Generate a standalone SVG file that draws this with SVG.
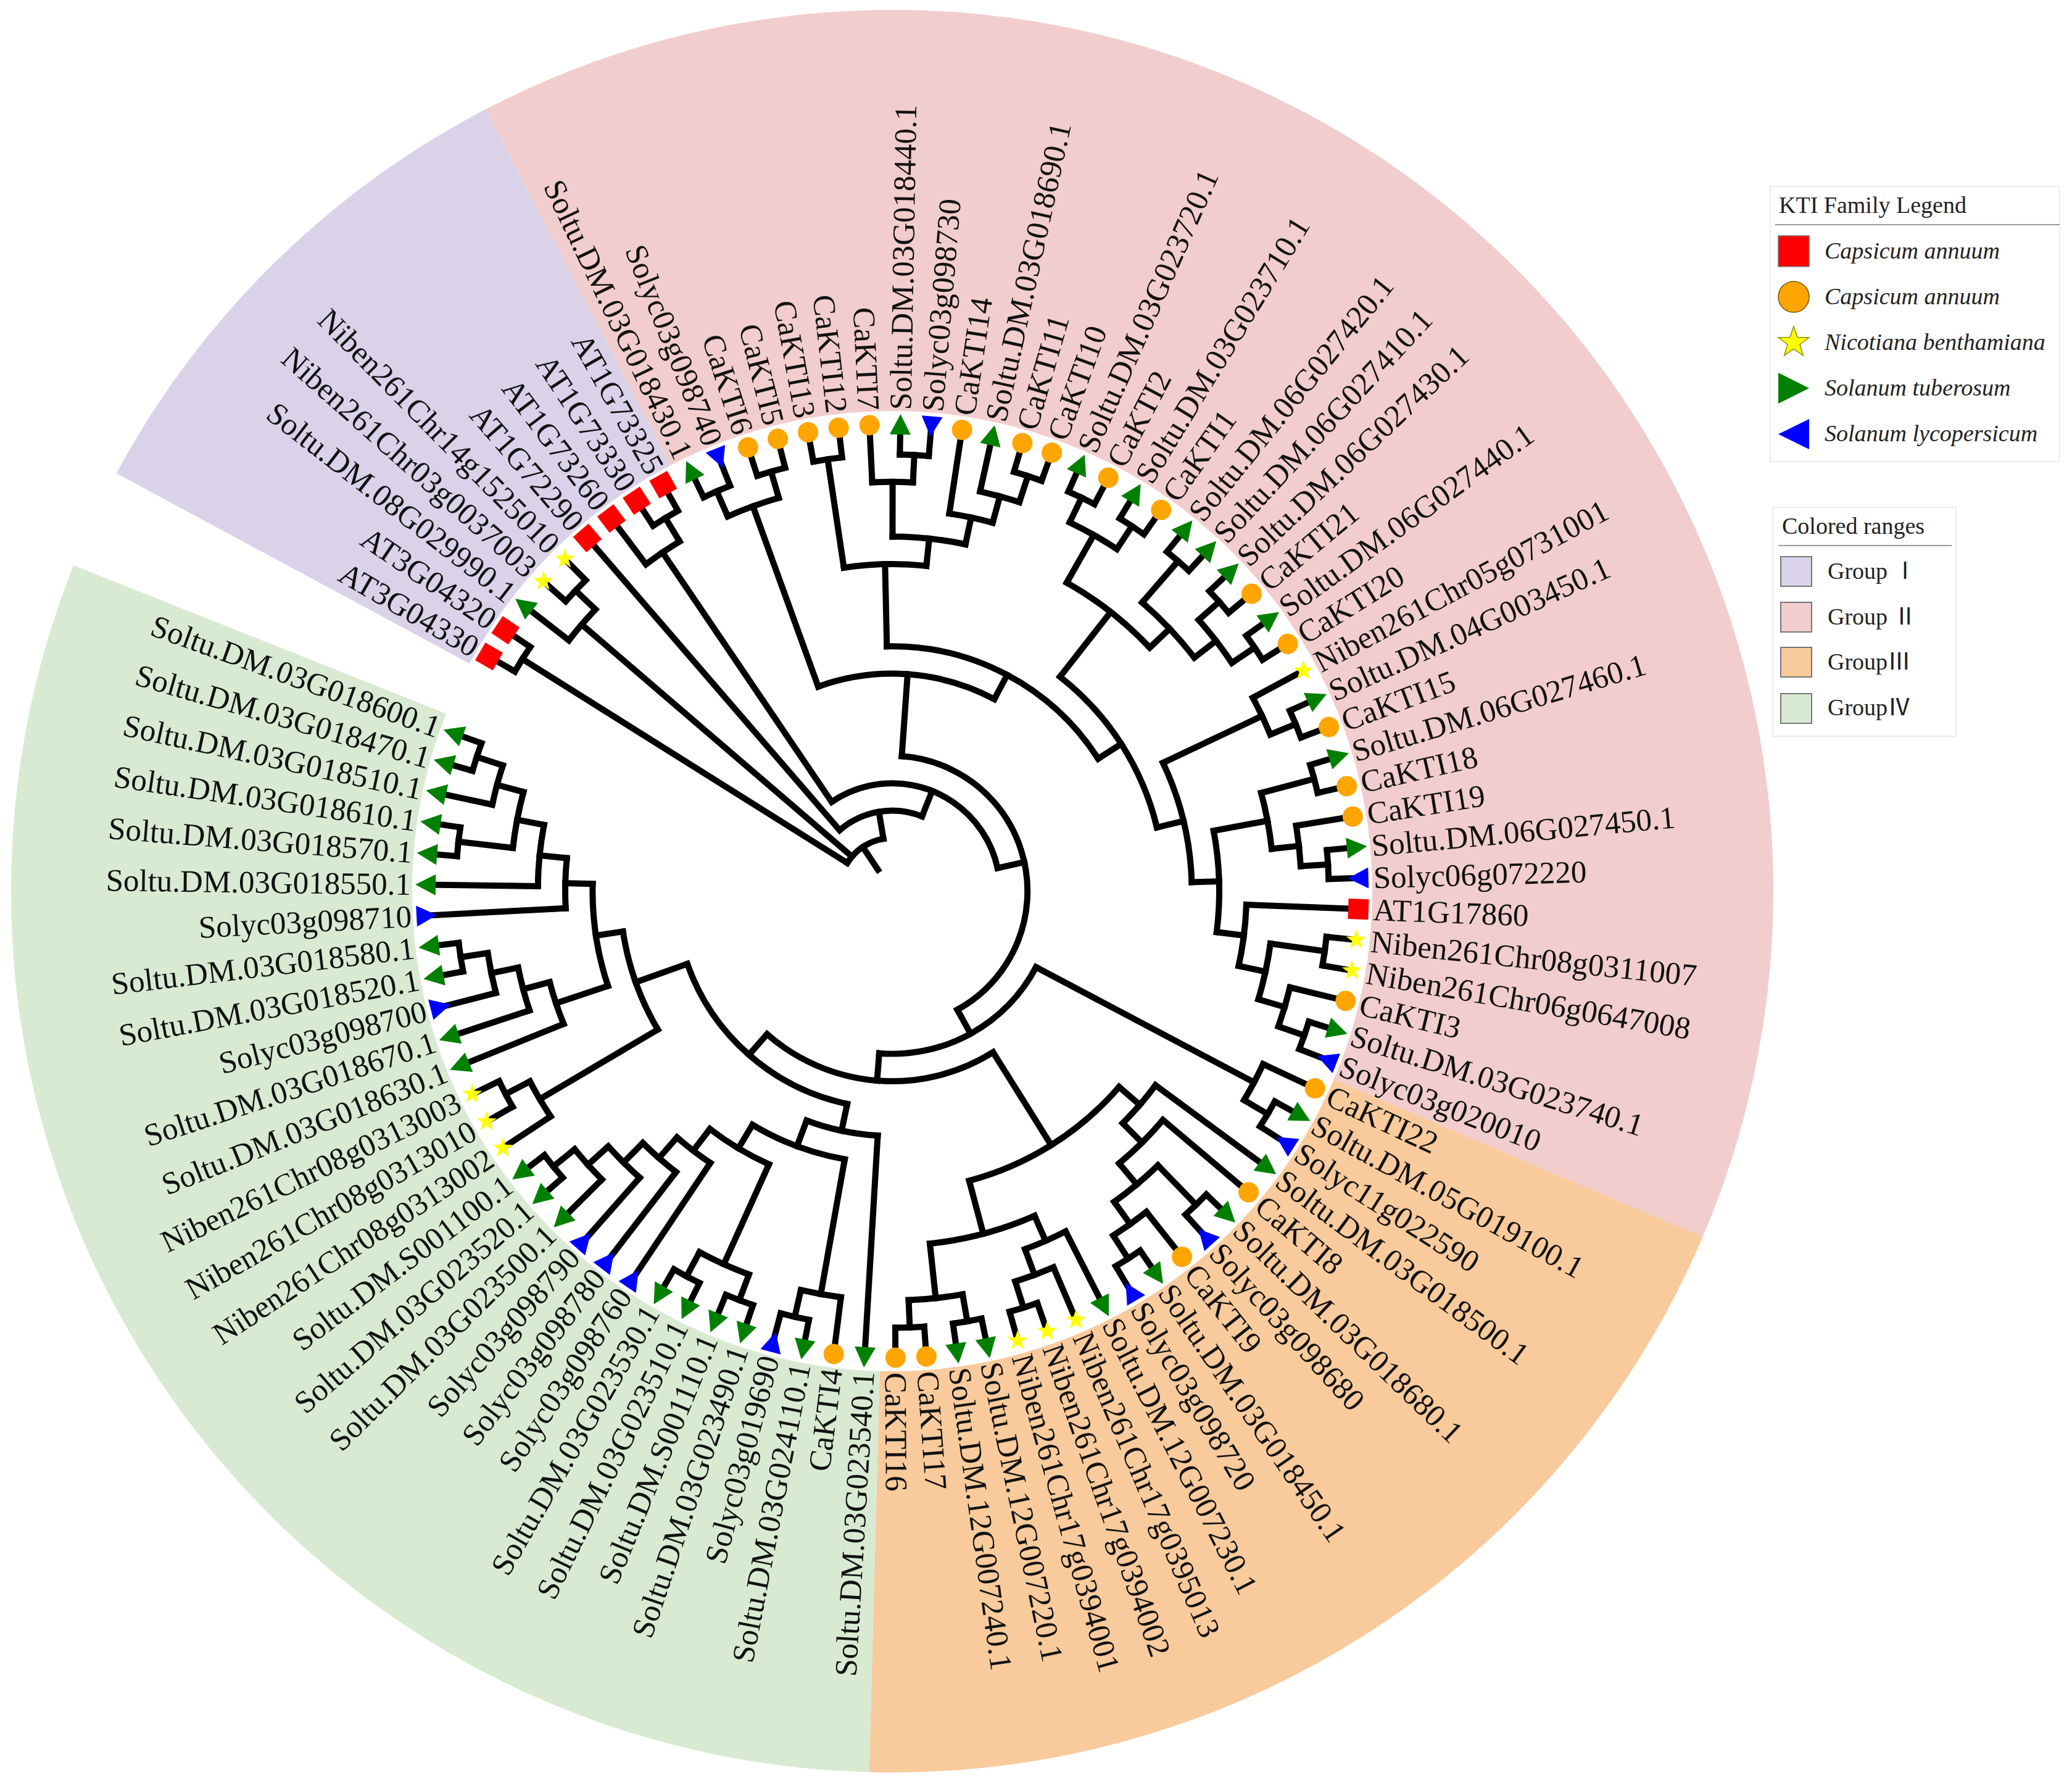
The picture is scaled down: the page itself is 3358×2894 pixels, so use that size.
<svg xmlns="http://www.w3.org/2000/svg" xmlns:xlink="http://www.w3.org/1999/xlink" width="3358" height="2894" viewBox="0 0 3358 2894">
<style>
.lab{font-family:"Liberation Serif","Times New Roman",serif;font-size:51px;fill:#111;dominant-baseline:central}
.l{text-anchor:end}
.lg{font-family:"Liberation Serif","Noto Sans CJK SC",serif;font-size:38px;fill:#222}
.it{font-style:italic}
#connectors line,#connectors circle{fill:none;stroke:#000;stroke-width:10;stroke-linecap:square}
</style>
<defs>
<circle id="c" r="16.5" fill="#FFA500"/>
<rect id="s" x="-16.5" y="-16.5" width="33" height="33" fill="#FF0000"/>
<polygon id="g" points="17,0 -16,-17 -16,17" fill="#008000"/>
<polygon id="b" points="-17,0 16,-17 16,17" fill="#0000FF"/>
<polygon id="y" points="0,-17 4,-5.5 16.17,-5.25 6.47,2.1 9.99,13.75 0,6.8 -9.99,13.75 -6.47,2.1 -16.17,-5.25 -4,-5.5" fill="#FFFF00"/>
</defs>
<rect width="3358" height="2894" fill="#fff"/>
<g id="ranges" transform="translate(1446 1444)" fill="none" stroke-width="650">
<circle r="1103" pathLength="360" stroke="#d9d2e9" stroke-dasharray="34.2 400" transform="rotate(208.3)"/>
<circle r="1103" pathLength="360" stroke="#f2cdcd" stroke-dasharray="140.6 400" transform="rotate(242.5)"/>
<circle r="1103" pathLength="360" stroke="#f8ca9c" stroke-dasharray="68.4 400" transform="rotate(23.1)"/>
<circle r="1103" pathLength="360" stroke="#d9ead3" stroke-dasharray="110.2 400" transform="rotate(91.5)"/>
</g>
<g id="connectors" transform="translate(1446 1444)">
<line x1="41.6" x2="86" transform="rotate(236.29)"/>
<line x1="86" x2="707.6" transform="rotate(212.1)"/>
<line x1="86" x2="663.2" transform="rotate(220.65)"/>
<line x1="663.2" x2="707.6" transform="rotate(223.5)"/>
<line x1="86" x2="130.4" transform="rotate(260.47)"/>
<line x1="130.4" x2="174.8" transform="rotate(291.74)"/>
<line x1="174.8" x2="663.2" transform="rotate(235.85)"/>
<line x1="663.2" x2="707.6" transform="rotate(238.7)"/>
<line x1="174.8" x2="219.2" transform="rotate(347.63)"/>
<line x1="219.2" x2="352.4" transform="rotate(274.05)"/>
<line x1="352.4" x2="663.2" transform="rotate(250.1)"/>
<line x1="663.2" x2="707.6" transform="rotate(246.3)"/>
<line x1="663.2" x2="707.6" transform="rotate(253.9)"/>
<line x1="352.4" x2="396.8" transform="rotate(298)"/>
<line x1="396.8" x2="530" transform="rotate(268.74)"/>
<line x1="530" x2="707.6" transform="rotate(261.5)"/>
<line x1="530" x2="574.4" transform="rotate(275.99)"/>
<line x1="574.4" x2="663.2" transform="rotate(270.05)"/>
<line x1="663.2" x2="707.6" transform="rotate(272.9)"/>
<line x1="574.4" x2="618.8" transform="rotate(281.925)"/>
<line x1="618.8" x2="663.2" transform="rotate(285.25)"/>
<line x1="663.2" x2="707.6" transform="rotate(288.1)"/>
<line x1="396.8" x2="441.2" transform="rotate(327.26)"/>
<line x1="441.2" x2="574.4" transform="rotate(308.05)"/>
<line x1="574.4" x2="663.2" transform="rotate(299.5)"/>
<line x1="663.2" x2="707.6" transform="rotate(295.7)"/>
<line x1="663.2" x2="707.6" transform="rotate(303.3)"/>
<line x1="574.4" x2="618.8" transform="rotate(316.6)"/>
<line x1="618.8" x2="707.6" transform="rotate(310.9)"/>
<line x1="618.8" x2="663.2" transform="rotate(322.3)"/>
<line x1="663.2" x2="707.6" transform="rotate(318.5)"/>
<line x1="663.2" x2="707.6" transform="rotate(326.1)"/>
<line x1="441.2" x2="485.6" transform="rotate(346.47)"/>
<line x1="485.6" x2="663.2" transform="rotate(334.65)"/>
<line x1="663.2" x2="707.6" transform="rotate(337.5)"/>
<line x1="485.6" x2="530" transform="rotate(358.28)"/>
<line x1="530" x2="618.8" transform="rotate(349.375)"/>
<line x1="618.8" x2="707.6" transform="rotate(345.1)"/>
<line x1="618.8" x2="663.2" transform="rotate(353.65)"/>
<line x1="663.2" x2="707.6" transform="rotate(356.5)"/>
<line x1="530" x2="574.4" transform="rotate(7.19)"/>
<line x1="574.4" x2="618.8" transform="rotate(12.175)"/>
<line x1="618.8" x2="707.6" transform="rotate(7.9)"/>
<line x1="618.8" x2="663.2" transform="rotate(16.45)"/>
<line x1="663.2" x2="707.6" transform="rotate(19.3)"/>
<line x1="219.2" x2="263.6" transform="rotate(61.21)"/>
<line x1="263.6" x2="663.2" transform="rotate(27.85)"/>
<line x1="663.2" x2="707.6" transform="rotate(30.7)"/>
<line x1="263.6" x2="308" transform="rotate(94.58)"/>
<line x1="308" x2="485.6" transform="rotate(57.95)"/>
<line x1="485.6" x2="530" transform="rotate(40.79)"/>
<line x1="530" x2="574.4" transform="rotate(45.19)"/>
<line x1="574.4" x2="618.8" transform="rotate(50.175)"/>
<line x1="618.8" x2="707.6" transform="rotate(45.9)"/>
<line x1="618.8" x2="663.2" transform="rotate(54.45)"/>
<line x1="663.2" x2="707.6" transform="rotate(57.3)"/>
<line x1="485.6" x2="574.4" transform="rotate(75.11)"/>
<line x1="574.4" x2="618.8" transform="rotate(66.325)"/>
<line x1="618.8" x2="663.2" transform="rotate(69.65)"/>
<line x1="663.2" x2="707.6" transform="rotate(72.5)"/>
<line x1="574.4" x2="663.2" transform="rotate(83.9)"/>
<line x1="663.2" x2="707.6" transform="rotate(80.1)"/>
<line x1="663.2" x2="707.6" transform="rotate(87.7)"/>
<line x1="308" x2="352.4" transform="rotate(131.2)"/>
<line x1="352.4" x2="396.8" transform="rotate(101.94)"/>
<line x1="396.8" x2="441.2" transform="rotate(110.47)"/>
<line x1="441.2" x2="663.2" transform="rotate(100.05)"/>
<line x1="663.2" x2="707.6" transform="rotate(102.9)"/>
<line x1="441.2" x2="485.6" transform="rotate(120.89)"/>
<line x1="485.6" x2="663.2" transform="rotate(114.3)"/>
<line x1="663.2" x2="707.6" transform="rotate(110.5)"/>
<line x1="663.2" x2="707.6" transform="rotate(118.1)"/>
<line x1="485.6" x2="530" transform="rotate(127.48)"/>
<line x1="530" x2="574.4" transform="rotate(131.16)"/>
<line x1="574.4" x2="618.8" transform="rotate(134.725)"/>
<line x1="618.8" x2="663.2" transform="rotate(138.05)"/>
<line x1="663.2" x2="707.6" transform="rotate(140.9)"/>
<line x1="352.4" x2="441.2" transform="rotate(160.46)"/>
<line x1="441.2" x2="663.2" transform="rotate(149.45)"/>
<line x1="663.2" x2="707.6" transform="rotate(152.3)"/>
<line x1="441.2" x2="485.6" transform="rotate(171.48)"/>
<line x1="485.6" x2="574.4" transform="rotate(161.56)"/>
<line x1="574.4" x2="618.8" transform="rotate(165.125)"/>
<line x1="618.8" x2="663.2" transform="rotate(168.45)"/>
<line x1="663.2" x2="707.6" transform="rotate(171.3)"/>
<line x1="485.6" x2="530" transform="rotate(181.39)"/>
<line x1="530" x2="574.4" transform="rotate(185.79)"/>
<line x1="574.4" x2="618.8" transform="rotate(190.775)"/>
<line x1="618.8" x2="707.6" transform="rotate(186.5)"/>
<line x1="618.8" x2="663.2" transform="rotate(195.05)"/>
<line x1="663.2" x2="707.6" transform="rotate(197.9)"/>
<line x1="707.6" x2="752" transform="rotate(210.2)"/>
<line x1="707.6" x2="752" transform="rotate(214)"/>
<line x1="663.2" x2="752" transform="rotate(217.8)"/>
<line x1="707.6" x2="752" transform="rotate(221.6)"/>
<line x1="707.6" x2="752" transform="rotate(225.4)"/>
<line x1="130.4" x2="752" transform="rotate(229.2)"/>
<line x1="663.2" x2="752" transform="rotate(233)"/>
<line x1="707.6" x2="752" transform="rotate(236.8)"/>
<line x1="707.6" x2="752" transform="rotate(240.6)"/>
<line x1="707.6" x2="752" transform="rotate(244.4)"/>
<line x1="707.6" x2="752" transform="rotate(248.2)"/>
<line x1="707.6" x2="752" transform="rotate(252)"/>
<line x1="707.6" x2="752" transform="rotate(255.8)"/>
<line x1="707.6" x2="752" transform="rotate(259.6)"/>
<line x1="707.6" x2="752" transform="rotate(263.4)"/>
<line x1="663.2" x2="752" transform="rotate(267.2)"/>
<line x1="707.6" x2="752" transform="rotate(271)"/>
<line x1="707.6" x2="752" transform="rotate(274.8)"/>
<line x1="618.8" x2="752" transform="rotate(278.6)"/>
<line x1="663.2" x2="752" transform="rotate(282.4)"/>
<line x1="707.6" x2="752" transform="rotate(286.2)"/>
<line x1="707.6" x2="752" transform="rotate(290)"/>
<line x1="707.6" x2="752" transform="rotate(293.8)"/>
<line x1="707.6" x2="752" transform="rotate(297.6)"/>
<line x1="707.6" x2="752" transform="rotate(301.4)"/>
<line x1="707.6" x2="752" transform="rotate(305.2)"/>
<line x1="707.6" x2="752" transform="rotate(309)"/>
<line x1="707.6" x2="752" transform="rotate(312.8)"/>
<line x1="707.6" x2="752" transform="rotate(316.6)"/>
<line x1="707.6" x2="752" transform="rotate(320.4)"/>
<line x1="707.6" x2="752" transform="rotate(324.2)"/>
<line x1="707.6" x2="752" transform="rotate(328)"/>
<line x1="663.2" x2="752" transform="rotate(331.8)"/>
<line x1="707.6" x2="752" transform="rotate(335.6)"/>
<line x1="707.6" x2="752" transform="rotate(339.4)"/>
<line x1="707.6" x2="752" transform="rotate(343.2)"/>
<line x1="707.6" x2="752" transform="rotate(347)"/>
<line x1="663.2" x2="752" transform="rotate(350.8)"/>
<line x1="707.6" x2="752" transform="rotate(354.6)"/>
<line x1="707.6" x2="752" transform="rotate(358.4)"/>
<line x1="574.4" x2="752" transform="rotate(2.2)"/>
<line x1="707.6" x2="752" transform="rotate(6)"/>
<line x1="707.6" x2="752" transform="rotate(9.8)"/>
<line x1="663.2" x2="752" transform="rotate(13.6)"/>
<line x1="707.6" x2="752" transform="rotate(17.4)"/>
<line x1="707.6" x2="752" transform="rotate(21.2)"/>
<line x1="663.2" x2="752" transform="rotate(25)"/>
<line x1="707.6" x2="752" transform="rotate(28.8)"/>
<line x1="707.6" x2="752" transform="rotate(32.6)"/>
<line x1="530" x2="752" transform="rotate(36.4)"/>
<line x1="574.4" x2="752" transform="rotate(40.2)"/>
<line x1="707.6" x2="752" transform="rotate(44)"/>
<line x1="707.6" x2="752" transform="rotate(47.8)"/>
<line x1="663.2" x2="752" transform="rotate(51.6)"/>
<line x1="707.6" x2="752" transform="rotate(55.4)"/>
<line x1="707.6" x2="752" transform="rotate(59.2)"/>
<line x1="618.8" x2="752" transform="rotate(63)"/>
<line x1="663.2" x2="752" transform="rotate(66.8)"/>
<line x1="707.6" x2="752" transform="rotate(70.6)"/>
<line x1="707.6" x2="752" transform="rotate(74.4)"/>
<line x1="707.6" x2="752" transform="rotate(78.2)"/>
<line x1="707.6" x2="752" transform="rotate(82)"/>
<line x1="707.6" x2="752" transform="rotate(85.8)"/>
<line x1="707.6" x2="752" transform="rotate(89.6)"/>
<line x1="396.8" x2="752" transform="rotate(93.4)"/>
<line x1="663.2" x2="752" transform="rotate(97.2)"/>
<line x1="707.6" x2="752" transform="rotate(101)"/>
<line x1="707.6" x2="752" transform="rotate(104.8)"/>
<line x1="707.6" x2="752" transform="rotate(108.6)"/>
<line x1="707.6" x2="752" transform="rotate(112.4)"/>
<line x1="707.6" x2="752" transform="rotate(116.2)"/>
<line x1="707.6" x2="752" transform="rotate(120)"/>
<line x1="530" x2="752" transform="rotate(123.8)"/>
<line x1="574.4" x2="752" transform="rotate(127.6)"/>
<line x1="618.8" x2="752" transform="rotate(131.4)"/>
<line x1="663.2" x2="752" transform="rotate(135.2)"/>
<line x1="707.6" x2="752" transform="rotate(139)"/>
<line x1="707.6" x2="752" transform="rotate(142.8)"/>
<line x1="663.2" x2="752" transform="rotate(146.6)"/>
<line x1="707.6" x2="752" transform="rotate(150.4)"/>
<line x1="707.6" x2="752" transform="rotate(154.2)"/>
<line x1="574.4" x2="752" transform="rotate(158)"/>
<line x1="618.8" x2="752" transform="rotate(161.8)"/>
<line x1="663.2" x2="752" transform="rotate(165.6)"/>
<line x1="707.6" x2="752" transform="rotate(169.4)"/>
<line x1="707.6" x2="752" transform="rotate(173.2)"/>
<line x1="530" x2="752" transform="rotate(177)"/>
<line x1="574.4" x2="752" transform="rotate(180.8)"/>
<line x1="707.6" x2="752" transform="rotate(184.6)"/>
<line x1="707.6" x2="752" transform="rotate(188.4)"/>
<line x1="663.2" x2="752" transform="rotate(192.2)"/>
<line x1="707.6" x2="752" transform="rotate(196)"/>
<line x1="707.6" x2="752" transform="rotate(199.8)"/>
<circle r="86" pathLength="360" stroke-dasharray="48.37 400" transform="rotate(212.1)"/>
<circle r="130.4" pathLength="360" stroke-dasharray="62.54 400" transform="rotate(229.2)"/>
<circle r="174.8" pathLength="360" stroke-dasharray="111.78 400" transform="rotate(235.85)"/>
<circle r="219.2" pathLength="360" stroke-dasharray="147.16 400" transform="rotate(274.05)"/>
<circle r="352.4" pathLength="360" stroke-dasharray="47.9 400" transform="rotate(250.1)"/>
<circle r="396.8" pathLength="360" stroke-dasharray="58.52 400" transform="rotate(268.74)"/>
<circle r="530" pathLength="360" stroke-dasharray="14.49 400" transform="rotate(261.5)"/>
<circle r="574.4" pathLength="360" stroke-dasharray="11.875 400" transform="rotate(270.05)"/>
<circle r="663.2" pathLength="360" stroke-dasharray="5.7 400" transform="rotate(267.2)"/>
<circle r="618.8" pathLength="360" stroke-dasharray="6.65 400" transform="rotate(278.6)"/>
<circle r="663.2" pathLength="360" stroke-dasharray="5.7 400" transform="rotate(282.4)"/>
<circle r="663.2" pathLength="360" stroke-dasharray="7.6 400" transform="rotate(246.3)"/>
<circle r="441.2" pathLength="360" stroke-dasharray="38.42 400" transform="rotate(308.05)"/>
<circle r="574.4" pathLength="360" stroke-dasharray="17.1 400" transform="rotate(299.5)"/>
<circle r="663.2" pathLength="360" stroke-dasharray="7.6 400" transform="rotate(295.7)"/>
<circle r="618.8" pathLength="360" stroke-dasharray="11.4 400" transform="rotate(310.9)"/>
<circle r="663.2" pathLength="360" stroke-dasharray="7.6 400" transform="rotate(318.5)"/>
<circle r="485.6" pathLength="360" stroke-dasharray="23.63 400" transform="rotate(334.65)"/>
<circle r="663.2" pathLength="360" stroke-dasharray="5.7 400" transform="rotate(331.8)"/>
<circle r="530" pathLength="360" stroke-dasharray="17.815 400" transform="rotate(349.375)"/>
<circle r="618.8" pathLength="360" stroke-dasharray="8.55 400" transform="rotate(345.1)"/>
<circle r="663.2" pathLength="360" stroke-dasharray="5.7 400" transform="rotate(350.8)"/>
<circle r="574.4" pathLength="360" stroke-dasharray="9.975 400" transform="rotate(2.2)"/>
<circle r="618.8" pathLength="360" stroke-dasharray="8.55 400" transform="rotate(7.9)"/>
<circle r="663.2" pathLength="360" stroke-dasharray="5.7 400" transform="rotate(13.6)"/>
<circle r="263.6" pathLength="360" stroke-dasharray="66.73 400" transform="rotate(27.85)"/>
<circle r="663.2" pathLength="360" stroke-dasharray="5.7 400" transform="rotate(25)"/>
<circle r="308" pathLength="360" stroke-dasharray="73.25 400" transform="rotate(57.95)"/>
<circle r="485.6" pathLength="360" stroke-dasharray="34.32 400" transform="rotate(40.79)"/>
<circle r="530" pathLength="360" stroke-dasharray="8.79 400" transform="rotate(36.4)"/>
<circle r="574.4" pathLength="360" stroke-dasharray="9.975 400" transform="rotate(40.2)"/>
<circle r="618.8" pathLength="360" stroke-dasharray="8.55 400" transform="rotate(45.9)"/>
<circle r="663.2" pathLength="360" stroke-dasharray="5.7 400" transform="rotate(51.6)"/>
<circle r="574.4" pathLength="360" stroke-dasharray="17.575 400" transform="rotate(66.325)"/>
<circle r="618.8" pathLength="360" stroke-dasharray="6.65 400" transform="rotate(63)"/>
<circle r="663.2" pathLength="360" stroke-dasharray="5.7 400" transform="rotate(66.8)"/>
<circle r="663.2" pathLength="360" stroke-dasharray="7.6 400" transform="rotate(80.1)"/>
<circle r="352.4" pathLength="360" stroke-dasharray="58.52 400" transform="rotate(101.94)"/>
<circle r="396.8" pathLength="360" stroke-dasharray="17.07 400" transform="rotate(93.4)"/>
<circle r="441.2" pathLength="360" stroke-dasharray="20.84 400" transform="rotate(100.05)"/>
<circle r="663.2" pathLength="360" stroke-dasharray="5.7 400" transform="rotate(97.2)"/>
<circle r="485.6" pathLength="360" stroke-dasharray="13.18 400" transform="rotate(114.3)"/>
<circle r="663.2" pathLength="360" stroke-dasharray="7.6 400" transform="rotate(110.5)"/>
<circle r="530" pathLength="360" stroke-dasharray="7.36 400" transform="rotate(123.8)"/>
<circle r="574.4" pathLength="360" stroke-dasharray="7.125 400" transform="rotate(127.6)"/>
<circle r="618.8" pathLength="360" stroke-dasharray="6.65 400" transform="rotate(131.4)"/>
<circle r="663.2" pathLength="360" stroke-dasharray="5.7 400" transform="rotate(135.2)"/>
<circle r="441.2" pathLength="360" stroke-dasharray="22.03 400" transform="rotate(149.45)"/>
<circle r="663.2" pathLength="360" stroke-dasharray="5.7 400" transform="rotate(146.6)"/>
<circle r="485.6" pathLength="360" stroke-dasharray="19.83 400" transform="rotate(161.56)"/>
<circle r="574.4" pathLength="360" stroke-dasharray="7.125 400" transform="rotate(158)"/>
<circle r="618.8" pathLength="360" stroke-dasharray="6.65 400" transform="rotate(161.8)"/>
<circle r="663.2" pathLength="360" stroke-dasharray="5.7 400" transform="rotate(165.6)"/>
<circle r="530" pathLength="360" stroke-dasharray="8.79 400" transform="rotate(177)"/>
<circle r="574.4" pathLength="360" stroke-dasharray="9.975 400" transform="rotate(180.8)"/>
<circle r="618.8" pathLength="360" stroke-dasharray="8.55 400" transform="rotate(186.5)"/>
<circle r="663.2" pathLength="360" stroke-dasharray="5.7 400" transform="rotate(192.2)"/>
<circle r="663.2" pathLength="360" stroke-dasharray="5.7 400" transform="rotate(217.8)"/>
<circle r="663.2" pathLength="360" stroke-dasharray="5.7 400" transform="rotate(233)"/>
<circle r="707.6" pathLength="360" stroke-dasharray="3.8 400" transform="rotate(210.2)"/>
<circle r="707.6" pathLength="360" stroke-dasharray="3.8 400" transform="rotate(221.6)"/>
<circle r="707.6" pathLength="360" stroke-dasharray="3.8 400" transform="rotate(236.8)"/>
<circle r="707.6" pathLength="360" stroke-dasharray="3.8 400" transform="rotate(244.4)"/>
<circle r="707.6" pathLength="360" stroke-dasharray="3.8 400" transform="rotate(252)"/>
<circle r="707.6" pathLength="360" stroke-dasharray="3.8 400" transform="rotate(259.6)"/>
<circle r="707.6" pathLength="360" stroke-dasharray="3.8 400" transform="rotate(271)"/>
<circle r="707.6" pathLength="360" stroke-dasharray="3.8 400" transform="rotate(286.2)"/>
<circle r="707.6" pathLength="360" stroke-dasharray="3.8 400" transform="rotate(293.8)"/>
<circle r="707.6" pathLength="360" stroke-dasharray="3.8 400" transform="rotate(301.4)"/>
<circle r="707.6" pathLength="360" stroke-dasharray="3.8 400" transform="rotate(309)"/>
<circle r="707.6" pathLength="360" stroke-dasharray="3.8 400" transform="rotate(316.6)"/>
<circle r="707.6" pathLength="360" stroke-dasharray="3.8 400" transform="rotate(324.2)"/>
<circle r="707.6" pathLength="360" stroke-dasharray="3.8 400" transform="rotate(335.6)"/>
<circle r="707.6" pathLength="360" stroke-dasharray="3.8 400" transform="rotate(343.2)"/>
<circle r="707.6" pathLength="360" stroke-dasharray="3.8 400" transform="rotate(354.6)"/>
<circle r="707.6" pathLength="360" stroke-dasharray="3.8 400" transform="rotate(6)"/>
<circle r="707.6" pathLength="360" stroke-dasharray="3.8 400" transform="rotate(17.4)"/>
<circle r="707.6" pathLength="360" stroke-dasharray="3.8 400" transform="rotate(28.8)"/>
<circle r="707.6" pathLength="360" stroke-dasharray="3.8 400" transform="rotate(44)"/>
<circle r="707.6" pathLength="360" stroke-dasharray="3.8 400" transform="rotate(55.4)"/>
<circle r="707.6" pathLength="360" stroke-dasharray="3.8 400" transform="rotate(70.6)"/>
<circle r="707.6" pathLength="360" stroke-dasharray="3.8 400" transform="rotate(78.2)"/>
<circle r="707.6" pathLength="360" stroke-dasharray="3.8 400" transform="rotate(85.8)"/>
<circle r="707.6" pathLength="360" stroke-dasharray="3.8 400" transform="rotate(101)"/>
<circle r="707.6" pathLength="360" stroke-dasharray="3.8 400" transform="rotate(108.6)"/>
<circle r="707.6" pathLength="360" stroke-dasharray="3.8 400" transform="rotate(116.2)"/>
<circle r="707.6" pathLength="360" stroke-dasharray="3.8 400" transform="rotate(139)"/>
<circle r="707.6" pathLength="360" stroke-dasharray="3.8 400" transform="rotate(150.4)"/>
<circle r="707.6" pathLength="360" stroke-dasharray="3.8 400" transform="rotate(169.4)"/>
<circle r="707.6" pathLength="360" stroke-dasharray="3.8 400" transform="rotate(184.6)"/>
<circle r="707.6" pathLength="360" stroke-dasharray="3.8 400" transform="rotate(196)"/>
</g>
<g id="leaves" class="lab" transform="translate(1446 1444)">
<g id="leaf0" transform="rotate(210.2)"><use href="#s" x="756"/><text class="l" transform="translate(780) rotate(180)">AT3G04330</text></g>
<g id="leaf1" transform="rotate(214)"><use href="#s" x="756"/><text class="l" transform="translate(780) rotate(180)">AT3G04320</text></g>
<g id="leaf2" transform="rotate(217.8)"><use href="#g" x="756"/><text class="l" transform="translate(780) rotate(180)">Soltu.DM.08G029990.1</text></g>
<g id="leaf3" transform="rotate(221.6)"><use href="#y" transform="translate(756) rotate(-221.6)"/><text class="l" transform="translate(780) rotate(180)">Niben261Chr03g0037003</text></g>
<g id="leaf4" transform="rotate(225.4)"><use href="#y" transform="translate(756) rotate(-225.4)"/><text class="l" transform="translate(780) rotate(180)">Niben261Chr14g1525010</text></g>
<g id="leaf5" transform="rotate(229.2)"><use href="#s" x="756"/><text class="l" transform="translate(780) rotate(180)">AT1G72290</text></g>
<g id="leaf6" transform="rotate(233)"><use href="#s" x="756"/><text class="l" transform="translate(780) rotate(180)">AT1G73260</text></g>
<g id="leaf7" transform="rotate(236.8)"><use href="#s" x="756"/><text class="l" transform="translate(780) rotate(180)">AT1G73330</text></g>
<g id="leaf8" transform="rotate(240.6)"><use href="#s" x="756"/><text class="l" transform="translate(780) rotate(180)">AT1G73325</text></g>
<g id="leaf9" transform="rotate(244.4)"><use href="#g" x="756"/><text class="l" transform="translate(780) rotate(180)">Soltu.DM.03G018430.1</text></g>
<g id="leaf10" transform="rotate(248.2)"><use href="#b" x="756"/><text class="l" transform="translate(780) rotate(180)">Solyc03g098740</text></g>
<g id="leaf11" transform="rotate(252)"><use href="#c" x="756"/><text class="l" transform="translate(780) rotate(180)">CaKTI6</text></g>
<g id="leaf12" transform="rotate(255.8)"><use href="#c" x="756"/><text class="l" transform="translate(780) rotate(180)">CaKTI5</text></g>
<g id="leaf13" transform="rotate(259.6)"><use href="#c" x="756"/><text class="l" transform="translate(780) rotate(180)">CaKTI13</text></g>
<g id="leaf14" transform="rotate(263.4)"><use href="#c" x="756"/><text class="l" transform="translate(780) rotate(180)">CaKTI12</text></g>
<g id="leaf15" transform="rotate(267.2)"><use href="#c" x="756"/><text class="l" transform="translate(780) rotate(180)">CaKTI7</text></g>
<g id="leaf16" transform="rotate(271)"><use href="#g" x="756"/><text x="780">Soltu.DM.03G018440.1</text></g>
<g id="leaf17" transform="rotate(274.8)"><use href="#b" x="756"/><text x="780">Solyc03g098730</text></g>
<g id="leaf18" transform="rotate(278.6)"><use href="#c" x="756"/><text x="780">CaKTI14</text></g>
<g id="leaf19" transform="rotate(282.4)"><use href="#g" x="756"/><text x="780">Soltu.DM.03G018690.1</text></g>
<g id="leaf20" transform="rotate(286.2)"><use href="#c" x="756"/><text x="780">CaKTI11</text></g>
<g id="leaf21" transform="rotate(290)"><use href="#c" x="756"/><text x="780">CaKTI10</text></g>
<g id="leaf22" transform="rotate(293.8)"><use href="#g" x="756"/><text x="780">Soltu.DM.03G023720.1</text></g>
<g id="leaf23" transform="rotate(297.6)"><use href="#c" x="756"/><text x="780">CaKTI2</text></g>
<g id="leaf24" transform="rotate(301.4)"><use href="#g" x="756"/><text x="780">Soltu.DM.03G023710.1</text></g>
<g id="leaf25" transform="rotate(305.2)"><use href="#c" x="756"/><text x="780">CaKTI1</text></g>
<g id="leaf26" transform="rotate(309)"><use href="#g" x="756"/><text x="780">Soltu.DM.06G027420.1</text></g>
<g id="leaf27" transform="rotate(312.8)"><use href="#g" x="756"/><text x="780">Soltu.DM.06G027410.1</text></g>
<g id="leaf28" transform="rotate(316.6)"><use href="#g" x="756"/><text x="780">Soltu.DM.06G027430.1</text></g>
<g id="leaf29" transform="rotate(320.4)"><use href="#c" x="756"/><text x="780">CaKTI21</text></g>
<g id="leaf30" transform="rotate(324.2)"><use href="#g" x="756"/><text x="780">Soltu.DM.06G027440.1</text></g>
<g id="leaf31" transform="rotate(328)"><use href="#c" x="756"/><text x="780">CaKTI20</text></g>
<g id="leaf32" transform="rotate(331.8)"><use href="#y" transform="translate(756) rotate(-331.8)"/><text x="780">Niben261Chr05g0731001</text></g>
<g id="leaf33" transform="rotate(335.6)"><use href="#g" x="756"/><text x="780">Soltu.DM.04G003450.1</text></g>
<g id="leaf34" transform="rotate(339.4)"><use href="#c" x="756"/><text x="780">CaKTI15</text></g>
<g id="leaf35" transform="rotate(343.2)"><use href="#g" x="756"/><text x="780">Soltu.DM.06G027460.1</text></g>
<g id="leaf36" transform="rotate(347)"><use href="#c" x="756"/><text x="780">CaKTI18</text></g>
<g id="leaf37" transform="rotate(350.8)"><use href="#c" x="756"/><text x="780">CaKTI19</text></g>
<g id="leaf38" transform="rotate(354.6)"><use href="#g" x="756"/><text x="780">Soltu.DM.06G027450.1</text></g>
<g id="leaf39" transform="rotate(358.4)"><use href="#b" x="756"/><text x="780">Solyc06g072220</text></g>
<g id="leaf40" transform="rotate(2.2)"><use href="#s" x="756"/><text x="780">AT1G17860</text></g>
<g id="leaf41" transform="rotate(6)"><use href="#y" transform="translate(756) rotate(-6)"/><text x="780">Niben261Chr08g0311007</text></g>
<g id="leaf42" transform="rotate(9.8)"><use href="#y" transform="translate(756) rotate(-9.8)"/><text x="780">Niben261Chr06g0647008</text></g>
<g id="leaf43" transform="rotate(13.6)"><use href="#c" x="756"/><text x="780">CaKTI3</text></g>
<g id="leaf44" transform="rotate(17.4)"><use href="#g" x="756"/><text x="780">Soltu.DM.03G023740.1</text></g>
<g id="leaf45" transform="rotate(21.2)"><use href="#b" x="756"/><text x="780">Solyc03g020010</text></g>
<g id="leaf46" transform="rotate(25)"><use href="#c" x="756"/><text x="780">CaKTI22</text></g>
<g id="leaf47" transform="rotate(28.8)"><use href="#g" x="756"/><text x="780">Soltu.DM.05G019100.1</text></g>
<g id="leaf48" transform="rotate(32.6)"><use href="#b" x="756"/><text x="780">Solyc11g022590</text></g>
<g id="leaf49" transform="rotate(36.4)"><use href="#g" x="756"/><text x="780">Soltu.DM.03G018500.1</text></g>
<g id="leaf50" transform="rotate(40.2)"><use href="#c" x="756"/><text x="780">CaKTI8</text></g>
<g id="leaf51" transform="rotate(44)"><use href="#g" x="756"/><text x="780">Soltu.DM.03G018680.1</text></g>
<g id="leaf52" transform="rotate(47.8)"><use href="#b" x="756"/><text x="780">Solyc03g098680</text></g>
<g id="leaf53" transform="rotate(51.6)"><use href="#c" x="756"/><text x="780">CaKTI9</text></g>
<g id="leaf54" transform="rotate(55.4)"><use href="#g" x="756"/><text x="780">Soltu.DM.03G018450.1</text></g>
<g id="leaf55" transform="rotate(59.2)"><use href="#b" x="756"/><text x="780">Solyc03g098720</text></g>
<g id="leaf56" transform="rotate(63)"><use href="#g" x="756"/><text x="780">Soltu.DM.12G007230.1</text></g>
<g id="leaf57" transform="rotate(66.8)"><use href="#y" transform="translate(756) rotate(-66.8)"/><text x="780">Niben261Chr17g0395013</text></g>
<g id="leaf58" transform="rotate(70.6)"><use href="#y" transform="translate(756) rotate(-70.6)"/><text x="780">Niben261Chr17g0394002</text></g>
<g id="leaf59" transform="rotate(74.4)"><use href="#y" transform="translate(756) rotate(-74.4)"/><text x="780">Niben261Chr17g0394001</text></g>
<g id="leaf60" transform="rotate(78.2)"><use href="#g" x="756"/><text x="780">Soltu.DM.12G007220.1</text></g>
<g id="leaf61" transform="rotate(82)"><use href="#g" x="756"/><text x="780">Soltu.DM.12G007240.1</text></g>
<g id="leaf62" transform="rotate(85.8)"><use href="#c" x="756"/><text x="780">CaKTI17</text></g>
<g id="leaf63" transform="rotate(89.6)"><use href="#c" x="756"/><text x="780">CaKTI16</text></g>
<g id="leaf64" transform="rotate(93.4)"><use href="#g" x="756"/><text class="l" transform="translate(780) rotate(180)">Soltu.DM.03G023540.1</text></g>
<g id="leaf65" transform="rotate(97.2)"><use href="#c" x="756"/><text class="l" transform="translate(780) rotate(180)">CaKTI4</text></g>
<g id="leaf66" transform="rotate(101)"><use href="#g" x="756"/><text class="l" transform="translate(780) rotate(180)">Soltu.DM.03G024110.1</text></g>
<g id="leaf67" transform="rotate(104.8)"><use href="#b" x="756"/><text class="l" transform="translate(780) rotate(180)">Solyc03g019690</text></g>
<g id="leaf68" transform="rotate(108.6)"><use href="#g" x="756"/><text class="l" transform="translate(780) rotate(180)">Soltu.DM.03G023490.1</text></g>
<g id="leaf69" transform="rotate(112.4)"><use href="#g" x="756"/><text class="l" transform="translate(780) rotate(180)">Soltu.DM.S001110.1</text></g>
<g id="leaf70" transform="rotate(116.2)"><use href="#g" x="756"/><text class="l" transform="translate(780) rotate(180)">Soltu.DM.03G023510.1</text></g>
<g id="leaf71" transform="rotate(120)"><use href="#g" x="756"/><text class="l" transform="translate(780) rotate(180)">Soltu.DM.03G023530.1</text></g>
<g id="leaf72" transform="rotate(123.8)"><use href="#b" x="756"/><text class="l" transform="translate(780) rotate(180)">Solyc03g098760</text></g>
<g id="leaf73" transform="rotate(127.6)"><use href="#b" x="756"/><text class="l" transform="translate(780) rotate(180)">Solyc03g098780</text></g>
<g id="leaf74" transform="rotate(131.4)"><use href="#b" x="756"/><text class="l" transform="translate(780) rotate(180)">Solyc03g098790</text></g>
<g id="leaf75" transform="rotate(135.2)"><use href="#g" x="756"/><text class="l" transform="translate(780) rotate(180)">Soltu.DM.03G023500.1</text></g>
<g id="leaf76" transform="rotate(139)"><use href="#g" x="756"/><text class="l" transform="translate(780) rotate(180)">Soltu.DM.03G023520.1</text></g>
<g id="leaf77" transform="rotate(142.8)"><use href="#g" x="756"/><text class="l" transform="translate(780) rotate(180)">Soltu.DM.S001100.1</text></g>
<g id="leaf78" transform="rotate(146.6)"><use href="#y" transform="translate(756) rotate(-146.6)"/><text class="l" transform="translate(780) rotate(180)">Niben261Chr08g0313002</text></g>
<g id="leaf79" transform="rotate(150.4)"><use href="#y" transform="translate(756) rotate(-150.4)"/><text class="l" transform="translate(780) rotate(180)">Niben261Chr08g0313010</text></g>
<g id="leaf80" transform="rotate(154.2)"><use href="#y" transform="translate(756) rotate(-154.2)"/><text class="l" transform="translate(780) rotate(180)">Niben261Chr08g0313003</text></g>
<g id="leaf81" transform="rotate(158)"><use href="#g" x="756"/><text class="l" transform="translate(780) rotate(180)">Soltu.DM.03G018630.1</text></g>
<g id="leaf82" transform="rotate(161.8)"><use href="#g" x="756"/><text class="l" transform="translate(780) rotate(180)">Soltu.DM.03G018670.1</text></g>
<g id="leaf83" transform="rotate(165.6)"><use href="#b" x="756"/><text class="l" transform="translate(780) rotate(180)">Solyc03g098700</text></g>
<g id="leaf84" transform="rotate(169.4)"><use href="#g" x="756"/><text class="l" transform="translate(780) rotate(180)">Soltu.DM.03G018520.1</text></g>
<g id="leaf85" transform="rotate(173.2)"><use href="#g" x="756"/><text class="l" transform="translate(780) rotate(180)">Soltu.DM.03G018580.1</text></g>
<g id="leaf86" transform="rotate(177)"><use href="#b" x="756"/><text class="l" transform="translate(780) rotate(180)">Solyc03g098710</text></g>
<g id="leaf87" transform="rotate(180.8)"><use href="#g" x="756"/><text class="l" transform="translate(780) rotate(180)">Soltu.DM.03G018550.1</text></g>
<g id="leaf88" transform="rotate(184.6)"><use href="#g" x="756"/><text class="l" transform="translate(780) rotate(180)">Soltu.DM.03G018570.1</text></g>
<g id="leaf89" transform="rotate(188.4)"><use href="#g" x="756"/><text class="l" transform="translate(780) rotate(180)">Soltu.DM.03G018610.1</text></g>
<g id="leaf90" transform="rotate(192.2)"><use href="#g" x="756"/><text class="l" transform="translate(780) rotate(180)">Soltu.DM.03G018510.1</text></g>
<g id="leaf91" transform="rotate(196)"><use href="#g" x="756"/><text class="l" transform="translate(780) rotate(180)">Soltu.DM.03G018470.1</text></g>
<g id="leaf92" transform="rotate(199.8)"><use href="#g" x="756"/><text class="l" transform="translate(780) rotate(180)">Soltu.DM.03G018600.1</text></g>
</g>
<g id="legend-kti">
<rect x="2869" y="302" width="469" height="446" fill="#fff" stroke="#ececec" stroke-width="2"/>
<text class="lg" x="2883" y="345">KTI Family Legend</text>
<line x1="2877" y1="364" x2="3338" y2="364" stroke="#9a9a9a" stroke-width="2"/>
<rect x="2882" y="382" width="50" height="50" fill="#FF0000" stroke="#777" stroke-width="1.5"/>
<text class="lg it" x="2957" y="419">Capsicum annuum</text>
<ellipse cx="2907" cy="481" rx="25" ry="25" fill="#FFA500" stroke="#7a5200" stroke-width="1.5"/>
<text class="lg it" x="2957" y="493">Capsicum annuum</text>
<polygon points="2907,529 2913.1,546.6 2931.7,547 2916.9,558.2 2922.3,576 2907,565.4 2891.7,576 2897.1,558.2 2882.3,547 2900.9,546.6" fill="#FFFF00" stroke="#8a8a00" stroke-width="1.5"/>
<text class="lg it" x="2957" y="567">Nicotiana benthamiana</text>
<polygon points="2882,604 2932,629 2882,654" fill="#008000"/>
<text class="lg it" x="2957" y="641">Solanum tuberosum</text>
<polygon points="2932,679 2882,703.5 2932,728" fill="#0000FF"/>
<text class="lg it" x="2957" y="715">Solanum lycopersicum</text>
</g>
<g id="legend-ranges">
<rect x="2873" y="822" width="297" height="371" fill="#fff" stroke="#ececec" stroke-width="2"/>
<text class="lg" x="2888" y="865">Colored ranges</text>
<line x1="2882" y1="884" x2="3163" y2="884" stroke="#9a9a9a" stroke-width="2"/>
<rect x="2886" y="902" width="50" height="48" fill="#d9d2e9" stroke="#777" stroke-width="2"/>
<text class="lg" x="2962" y="938">Group Ⅰ</text>
<rect x="2886" y="976" width="50" height="48" fill="#f2cdcd" stroke="#777" stroke-width="2"/>
<text class="lg" x="2962" y="1012">Group Ⅱ</text>
<rect x="2886" y="1049" width="50" height="48" fill="#f8ca9c" stroke="#777" stroke-width="2"/>
<text class="lg" x="2962" y="1085">GroupⅢ</text>
<rect x="2886" y="1124" width="50" height="48" fill="#d9ead3" stroke="#777" stroke-width="2"/>
<text class="lg" x="2962" y="1159">GroupⅣ</text>
</g>
</svg>
